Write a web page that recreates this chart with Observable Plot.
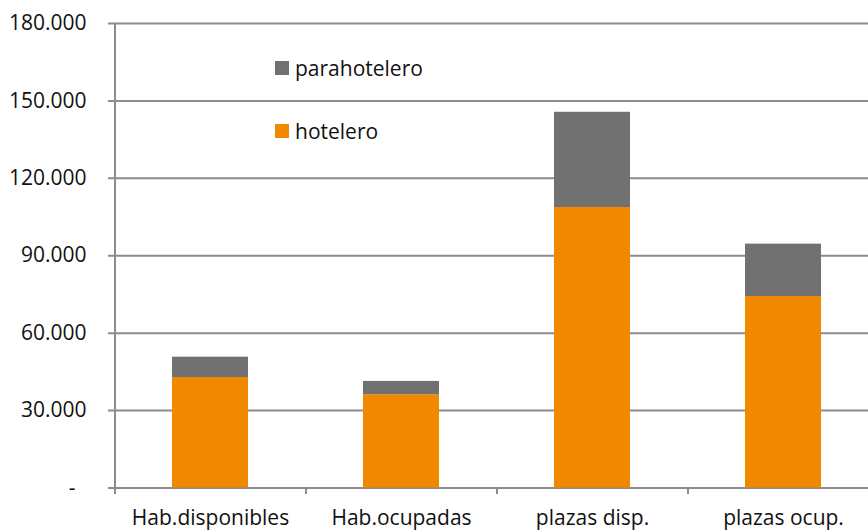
<!DOCTYPE html>
<html>
<head>
<meta charset="utf-8">
<script src="https://cdn.jsdelivr.net/npm/d3@7"></script>
<script src="https://cdn.jsdelivr.net/npm/@observablehq/plot@0.6"></script>
<style>
  html, body { margin: 0; padding: 0; background: #fff; }
  #wrap { position: relative; width: 868px; height: 530px; overflow: hidden; font-family: "Open Sans", sans-serif; }
  #legend { position: absolute; left: 275px; top: 55px; font-size: 21px; color: #111; }
  .item { display: flex; align-items: center; height: 26px; }
  .item + .item { margin-top: 37px; }
  .sw { width: 14px; height: 14px; margin-right: 6px; }
</style>
</head>
<body>
<div id="wrap"></div>
<script>
const categories = ["Hab.disponibles", "Hab.ocupadas", "plazas disp.", "plazas ocup."];
const hotelero = [42800, 36100, 108700, 74200];
const parahotelero = [7900, 5200, 36900, 20300];
const series = ["hotelero", "parahotelero"];
const colors = ["#F08800", "#717171"];
const yTicks = [0, 30000, 60000, 90000, 120000, 150000, 180000];

const rows = [];
categories.forEach((c, i) => {
  rows.push({cat: c, tipo: "hotelero", value: hotelero[i]});
  rows.push({cat: c, tipo: "parahotelero", value: parahotelero[i]});
});

const fmt = d => d === 0 ? "-\u00a0\u00a0" : d3.format(",")(d).replace(/,/g, ".");
const step = 191;
const gridColor = "#8c8c8c";

const chart = Plot.plot({
  width: 868,
  height: 530,
  marginLeft: 115,
  marginRight: 0,
  marginTop: 23,
  marginBottom: 42.5,
  style: {fontFamily: "Open Sans, sans-serif", fontSize: "21px", color: "#111", background: "#fff"},
  x: {domain: categories, range: [115, 115 + 4 * step], paddingInner: 0.6, paddingOuter: 0.3, axis: null, label: null},
  y: {domain: [0, 180000], axis: null, label: null},
  color: {domain: series, range: colors},
  marks: [
    Plot.ruleY(yTicks, {stroke: gridColor, strokeWidth: 2, insetLeft: -7}),
    Plot.barY(rows, {x: "cat", y: "value", fill: "tipo"}),
    Plot.ruleX([categories[0]], {dx: -step / 2, y1: 180000, y2: 0, insetBottom: -6.5, stroke: gridColor, strokeWidth: 2}),
    Plot.ruleX(categories.slice(1), {dx: -step / 2, y1: 0, y2: 0, insetBottom: -6.5, stroke: gridColor, strokeWidth: 2}),
    Plot.axisY({ticks: yTicks, tickSize: 0, tickPadding: 29, tickFormat: fmt, fontSize: 21, fill: "#111", label: null}),
    Plot.axisX({tickSize: 0, tickPadding: 22.5, fontSize: 21, fill: "#111", label: null})
  ]
});

const wrap = document.getElementById("wrap");
wrap.appendChild(chart);

const legend = document.createElement("div");
legend.id = "legend";
[["parahotelero", colors[1]], ["hotelero", colors[0]]].forEach(([name, col]) => {
  const it = document.createElement("div");
  it.className = "item";
  const sw = document.createElement("span");
  sw.className = "sw";
  sw.style.background = col;
  const tx = document.createElement("span");
  tx.textContent = name;
  it.appendChild(sw);
  it.appendChild(tx);
  legend.appendChild(it);
});
wrap.appendChild(legend);
</script>
</body>
</html>
